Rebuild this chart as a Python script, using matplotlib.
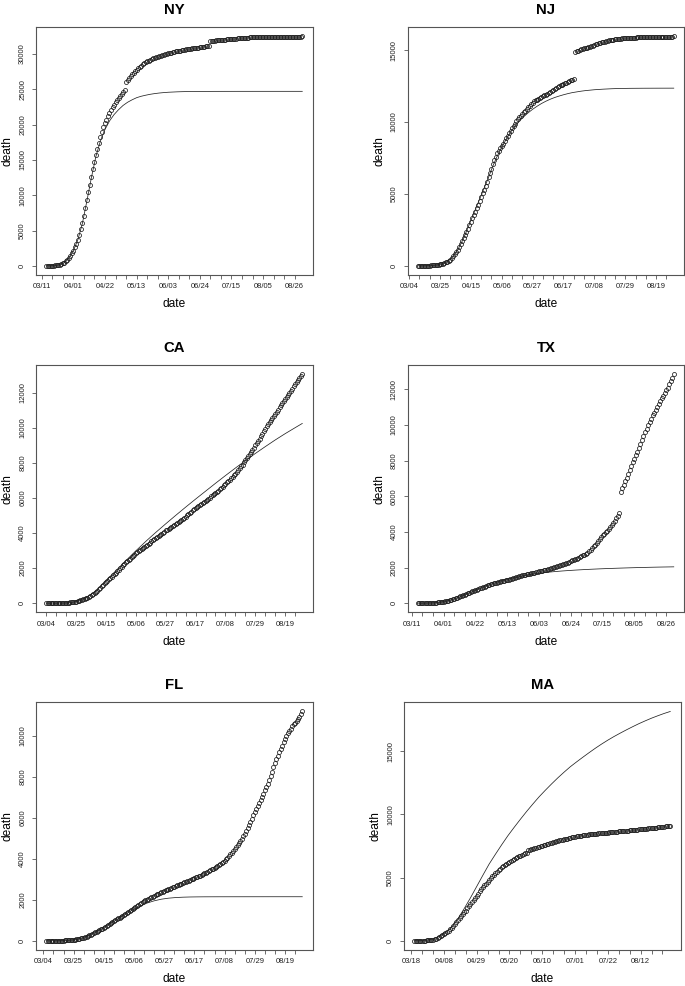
import numpy as np
import pandas as pd
import matplotlib
matplotlib.use("Agg")
import matplotlib.pyplot as plt
import matplotlib.dates as mdates

plt.rcParams['font.family'] = ['Liberation Sans', 'DejaVu Sans']

# ---------------- data (cumulative deaths, daily) ----------------
# day numbers are offsets from each panel's base date (a Wednesday)
NY_BASE = '2020-03-11'
NY_DAY0 = 3
NY_DEATHS = [2,3,8,15,25,40,60,90,130,180,
             250,340,460,620,820,1080,1380,1750,2150,2600,
             3100,3700,4400,5200,6100,7100,8200,9300,10400,11500,
             12600,13700,14700,15700,16600,17400,18200,18900,19600,20200,
             20700,21200,21650,22050,22450,22800,23150,23450,23750,24050,
             24300,24550,24850,26000,26300,26600,26850,27100,27350,27550,
             27750,27950,28150,28330,28500,28650,28800,28930,29050,29160,
             29260,29360,29450,29540,29620,29700,29770,29840,29910,29970,
             30030,30090,30140,30190,30240,30290,30340,30390,30430,30470,
             30510,30550,30590,30630,30670,30710,30750,30780,30810,30840,
             30870,30900,30930,30960,30990,31020,31050,31080,31110,31800,
             31830,31860,31890,31910,31930,31950,31970,31990,32010,32030,
             32050,32070,32090,32110,32130,32150,32170,32190,32210,32230,
             32250,32260,32280,32290,32310,32320,32340,32350,32370,32380,
             32400,32410,32420,32430,32440,32330,32340,32350,32355,32360,
             32365,32370,32375,32380,32385,32390,32395,32400,32405,32410,
             32415,32420,32425,32430,32435,32440,32445,32450,32455,32460,
             32465]
NY_FIT_DAYS = [3,6,9,12,15,18,21,24,27,30,33,36,39,42,45,48,51,54,57,60,63,66,69,72,
               75,78,81,84,87,90,93,96,99,105,115,130,150,173]
NY_FIT = [5,20,60,180,450,1050,2150,3700,6000,9200,12500,15500,17700,19300,20500,21400,
          22100,22700,23150,23500,23800,24000,24150,24280,24380,24460,24520,24570,24600,
          24630,24650,24665,24675,24688,24695,24699,24700,24700]

NJ_BASE = '2020-03-04'
NJ_DAY0 = 6
NJ_DEATHS = [1,2,3,5,8,10,14,18,22,27,
             33,40,50,62,78,98,125,160,200,245,
             300,360,440,540,660,800,960,1130,1320,1520,
             1720,1930,2140,2360,2590,2830,3070,3300,3530,3760,
             4000,4260,4530,4800,5050,5300,5570,5850,6150,6450,
             6750,7050,7350,7600,7820,8000,8170,8340,8510,8690,
             8870,9050,9230,9400,9570,9740,9900,10050,10190,10320,
             10440,10560,10680,10800,10920,11030,11140,11250,11350,11450,
             11510,11570,11630,11690,11750,11800,11850,11900,11960,12030,
             12100,12170,12240,12300,12370,12430,12500,12550,12600,12650,
             12700,12750,12800,12850,12900,12950,13000,14870,14920,14970,
             15010,15050,15090,15120,15150,15180,15210,15240,15270,15300,
             15330,15420,15450,15480,15510,15540,15570,15600,15630,15660,
             15680,15700,15720,15740,15760,15775,15790,15800,15810,15820,
             15830,15840,15850,15855,15860,15865,15870,15875,15880,15885,
             15890,15895,15900,15902,15905,15907,15910,15912,15915,15917,
             15920,15922,15925,15927,15930,15932,15935,15937,15940,15942,
             15945,15947,15950,15952,15955]
NJ_FIT_DAYS = [6,9,12,15,18,21,24,27,30,33,36,39,42,45,48,51,54,57,60,63,66,69,72,75,
               78,81,84,87,90,93,96,99,102,105,108,111,114,117,120,123,126,129,132,135,
               138,141,144,150,160,170,180]
NJ_FIT = [2,5,12,25,50,100,200,370,650,1100,1700,2400,3150,3900,4650,5400,6150,6950,
          7650,8250,8800,9300,9730,10080,10380,10650,10890,11100,11290,11450,11590,11710,
          11810,11900,11980,12050,12100,12150,12190,12220,12250,12270,12290,12305,12320,
          12330,12338,12348,12355,12358,12360]

CA_BASE = '2020-03-04'
CA_DAY0 = 0
CA_DEATHS = [1,1,2,3,4,5,6,8,10,12,
             14,16,19,22,26,30,35,42,50,60,
             75,90,110,130,155,180,210,240,275,310,
             350,400,450,510,570,640,710,790,870,960,
             1050,1130,1210,1280,1350,1420,1500,1580,1660,1740,
             1820,1900,1990,2070,2150,2240,2320,2400,2470,2540,
             2610,2680,2760,2840,2900,2960,3020,3070,3120,3180,
             3240,3310,3380,3450,3520,3580,3640,3700,3770,3830,
             3900,3960,4020,4080,4140,4190,4240,4290,4340,4390,
             4450,4510,4570,4630,4690,4750,4810,4870,4930,5000,
             5070,5140,5210,5280,5350,5420,5480,5540,5600,5660,
             5720,5780,5840,5900,5960,6020,6080,6140,6200,6260,
             6330,6400,6480,6560,6640,6720,6800,6880,6960,7040,
             7120,7200,7290,7380,7480,7580,7680,7790,7900,8020,
             8140,8260,8380,8500,8620,8740,8860,8990,9120,9250,
             9380,9520,9660,9800,9940,10070,10190,10310,10430,10550,
             10670,10790,10910,11030,11150,11270,11390,11510,11630,11750,
             11870,11990,12110,12230,12350,12470,12590,12710,12830,12940,
             13050]
CA_FIT_DAYS = [0,7,14,18,21,24,28,31,35,38,42,49,56,63,70,77,84,91,98,105,112,119,126,
               133,140,147,154,161,168,175,180]
CA_FIT = [0,3,15,45,100,180,320,470,700,950,1280,1850,2420,2980,3520,4030,4520,5000,
          5470,5930,6380,6830,7270,7700,8120,8530,8920,9300,9660,10000,10240]

TX_BASE = '2020-03-11'
TX_DAY0 = 4
TX_DEATHS = [1,1,2,3,5,6,8,10,13,17,
             22,27,33,40,50,60,72,85,100,120,
             140,165,190,215,245,275,305,340,375,410,
             445,480,515,550,585,620,655,690,725,760,
             795,830,865,900,935,970,1005,1040,1065,1090,
             1115,1140,1160,1180,1200,1220,1240,1260,1280,1300,
             1320,1345,1370,1400,1430,1460,1490,1515,1535,1555,
             1575,1595,1615,1635,1655,1675,1700,1720,1740,1760,
             1780,1800,1820,1840,1860,1885,1910,1935,1960,1985,
             2010,2040,2070,2100,2130,2160,2190,2220,2250,2280,
             2320,2360,2400,2435,2470,2505,2545,2590,2630,2680,
             2730,2780,2840,2920,3010,3100,3190,3280,3390,3500,
             3610,3720,3820,3910,3990,4070,4150,4260,4380,4500,
             4630,4770,4920,5090,6270,6460,6660,6850,7040,7260,
             7480,7700,7900,8100,8300,8500,8700,8930,9150,9380,
             9600,9800,10000,10180,10360,10540,10700,10860,11020,11180,
             11340,11500,11650,11800,11950,12100,12280,12450,12640,12860]
TX_FIT_DAYS = [4,9,14,19,24,29,34,39,44,49,54,59,64,69,74,79,84,89,94,99,104,109,114,
               119,124,129,134,139,144,149,154,159,164,169,173]
TX_FIT = [1,6,22,60,140,270,440,620,800,970,1120,1250,1360,1450,1540,1620,1680,1730,
          1770,1805,1835,1862,1886,1907,1926,1943,1958,1972,1985,1997,2008,2018,2027,
          2034,2040]

FL_BASE = '2020-03-04'
FL_DAY0 = 2
FL_DEATHS = [1,1,2,2,3,4,5,6,7,9,
             11,13,15,18,21,25,30,36,43,52,
             62,75,90,105,120,138,160,185,210,240,
             270,305,340,375,415,455,490,525,560,600,
             640,680,720,765,810,855,900,950,1000,1045,
             1090,1135,1180,1225,1270,1320,1370,1420,1470,1515,
             1560,1610,1660,1710,1760,1810,1850,1890,1930,1970,
             2010,2050,2090,2125,2160,2195,2230,2265,2300,2335,
             2370,2400,2430,2460,2490,2520,2550,2580,2610,2640,
             2670,2700,2730,2760,2790,2820,2850,2880,2910,2940,
             2970,3000,3030,3060,3090,3120,3150,3185,3220,3255,
             3290,3325,3360,3400,3440,3480,3520,3560,3600,3640,
             3680,3730,3780,3840,3900,3970,4050,4130,4210,4290,
             4370,4460,4560,4660,4760,4870,4980,5100,5220,5350,
             5490,5640,5790,5950,6110,6270,6430,6580,6730,6880,
             7030,7180,7330,7480,7660,7850,8050,8250,8450,8650,
             8850,9030,9200,9360,9520,9680,9840,9990,10120,10240,
             10350,10450,10550,10640,10730,10820,10920,11050,11180]
FL_FIT_DAYS = [2,7,12,17,22,27,32,37,42,47,52,57,62,67,72,77,82,87,92,97,102,107,112,
               122,140,160,180]
FL_FIT = [1,4,11,25,60,140,275,450,640,860,1080,1300,1510,1690,1840,1950,2030,2080,
          2110,2128,2138,2143,2146,2148,2149,2150,2150]

MA_BASE = '2020-03-18'
MA_DAY0 = 2
MA_DEATHS = [1,2,3,5,8,11,15,20,28,38,
             52,70,100,140,185,240,300,370,450,540,
             630,720,810,900,1010,1150,1310,1470,1630,1790,
             1950,2100,2250,2400,2560,2720,2880,3040,3200,3380,
             3560,3740,3910,4070,4230,4380,4530,4680,4820,4960,
             5100,5230,5360,5480,5600,5710,5810,5900,5980,6060,
             6140,6220,6300,6380,6460,6540,6610,6680,6750,6810,
             6870,6920,6970,7170,7210,7250,7290,7330,7370,7410,
             7450,7490,7530,7570,7610,7650,7690,7730,7770,7810,
             7850,7880,7910,7940,7970,8000,8030,8060,8090,8120,
             8150,8180,8210,8235,8260,8285,8310,8330,8350,8370,
             8390,8410,8425,8440,8452,8464,8476,8488,8500,8512,
             8524,8536,8548,8560,8572,8584,8596,8608,8620,8632,
             8644,8656,8668,8680,8692,8704,8716,8728,8740,8752,
             8764,8776,8788,8800,8813,8826,8839,8852,8865,8878,
             8891,8904,8917,8930,8945,8960,8975,8990,9005,9020,
             9035,9050,9065,9080,9095]
MA_FIT_DAYS = [2,6,10,14,18,22,26,30,34,38,42,46,50,54,58,62,66,70,74,78,82,86,90,94,
               98,102,106,110,114,118,122,126,130,134,138,142,146,150,154,158,162,166]
MA_FIT = [5,20,60,150,330,640,1100,1750,2550,3400,4300,5200,6080,6850,7600,8320,8980,
          9620,10240,10830,11400,11920,12420,12900,13350,13780,14160,14530,14890,15240,
          15570,15880,16170,16440,16700,16950,17190,17410,17620,17810,17990,18150]

NY_YTICKS = [0, 5000, 10000, 15000, 20000, 25000, 30000]
NJ_YTICKS = [0, 5000, 10000, 15000]
CA_YTICKS = [0, 2000, 4000, 6000, 8000, 10000, 12000]
TX_YTICKS = [0, 2000, 4000, 6000, 8000, 10000, 12000]
FL_YTICKS = [0, 2000, 4000, 6000, 8000, 10000]
MA_YTICKS = [0, 5000, 10000, 15000]

# ---------------- layout ----------------
W, H = 685, 986
fig = plt.figure(figsize=(W / 100, H / 100), dpi=100)

# panel boxes in pixels: left, top, right, bottom
panels = [
    ("NY", NY_BASE, NY_DAY0, NY_DEATHS, NY_FIT_DAYS, NY_FIT, NY_YTICKS, (36, 27.3, 312.5, 275)),
    ("NJ", NJ_BASE, NJ_DAY0, NJ_DEATHS, NJ_FIT_DAYS, NJ_FIT, NJ_YTICKS, (407.7, 27.3, 684, 275)),
    ("CA", CA_BASE, CA_DAY0, CA_DEATHS, CA_FIT_DAYS, CA_FIT, CA_YTICKS, (36, 365, 312.5, 612.3)),
    ("TX", TX_BASE, TX_DAY0, TX_DEATHS, TX_FIT_DAYS, TX_FIT, TX_YTICKS, (407.7, 365, 684, 612.3)),
    ("FL", FL_BASE, FL_DAY0, FL_DEATHS, FL_FIT_DAYS, FL_FIT, FL_YTICKS, (36, 702.3, 312.5, 950)),
    ("MA", MA_BASE, MA_DAY0, MA_DEATHS, MA_FIT_DAYS, MA_FIT, MA_YTICKS, (404, 702.3, 680.5, 950)),
]

AX_COL = '#555555'
for title, base, day0, obs, fdays, fit, yticks, (l, t, r, b) in panels:
    ax = fig.add_axes([l / W, 1 - b / H, (r - l) / W, (b - t) / H])
    base_ts = pd.Timestamp(base)
    obs = np.asarray(obs, dtype=float)
    fit = np.asarray(fit, dtype=float)
    od = base_ts + pd.to_timedelta(day0 + np.arange(len(obs)), unit='D')
    fd = base_ts + pd.to_timedelta(np.asarray(fdays), unit='D')
    xo = mdates.date2num(od.to_pydatetime())
    xf = mdates.date2num(fd.to_pydatetime())

    ax.plot(xo, obs, linestyle='none', marker='o', ms=2.9, mfc='none',
            mec='#1a1a1a', mew=0.55)
    ax.plot(xf, fit, '-', color='#222222', lw=0.55)

    x0, x1 = xo.min(), xo.max()
    ax.set_xlim(x0 - 0.04 * (x1 - x0), x1 + 0.04 * (x1 - x0))
    allv = np.concatenate([obs, fit])
    y0, y1 = allv.min(), allv.max()
    ax.set_ylim(y0 - 0.04 * (y1 - y0), y1 + 0.04 * (y1 - y0))

    # weekly ticks on Wednesdays, label every third
    start = od[0]
    first_wed = start - pd.Timedelta(days=(start.weekday() - 2) % 7)
    ticks = pd.date_range(first_wed, od[-1], freq='7D')
    tx = mdates.date2num(ticks.to_pydatetime())
    labels = [d.strftime('%m/%d') if i % 3 == 0 else '' for i, d in enumerate(ticks)]
    ax.set_xticks(tx, labels)
    ax.set_yticks(yticks, [str(v) for v in yticks])

    ax.tick_params(axis='both', direction='out', length=3.1, width=0.6,
                   color=AX_COL, labelsize=5.5, labelcolor='#222222')
    ax.tick_params(axis='x', pad=3.0)
    ax.tick_params(axis='y', pad=4.0, labelrotation=90)
    for lab in ax.get_yticklabels():
        lab.set_verticalalignment('center')
    for s in ax.spines.values():
        s.set_color(AX_COL)
        s.set_linewidth(0.8)

    cx = (l + r) / 2
    fig.text(cx / W, 1 - (t - 13.3) / H, title, ha='center', va='baseline',
             fontsize=10.7, fontweight='bold')
    fig.text(cx / W, 1 - (b + 32.3) / H, 'date', ha='center', va='baseline', fontsize=8.6)
    fig.text((l - 28.2) / W, 1 - ((t + b) / 2) / H, 'death', rotation=90,
             ha='center', va='center', fontsize=8.6)

fig.savefig('out.png', dpi=100)
